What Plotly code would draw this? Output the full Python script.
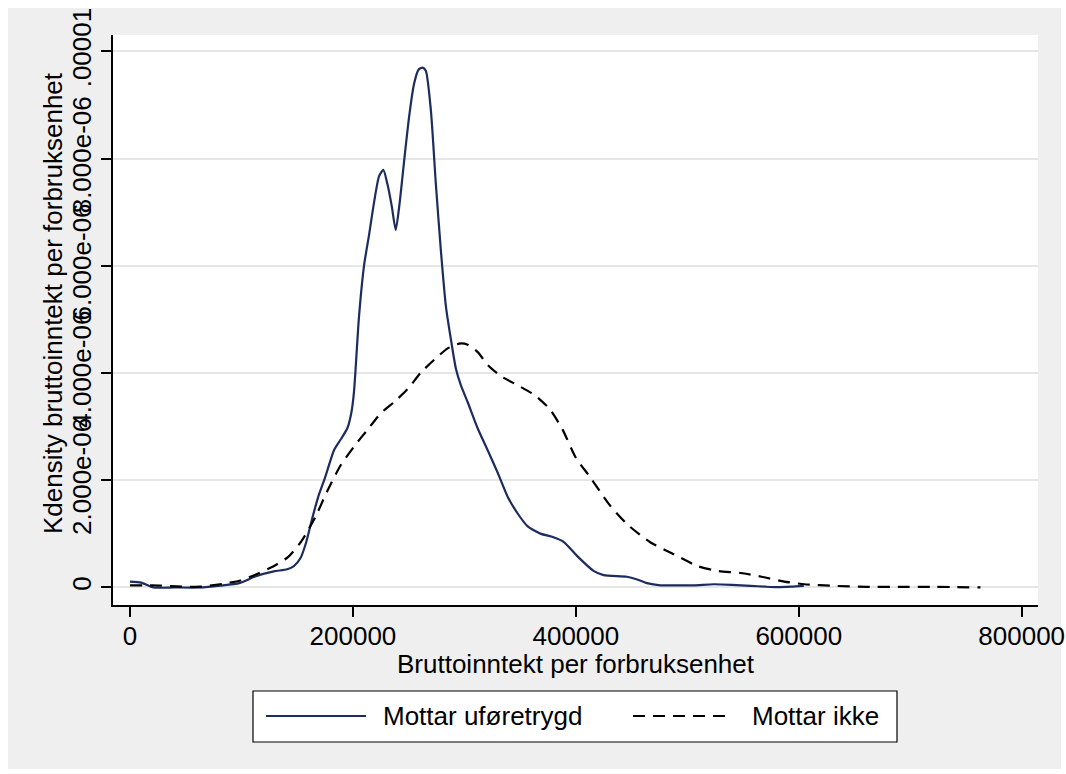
import plotly.graph_objects as go

# ---- data ----
x_ufor = [0, 10000, 21000, 40000, 63000, 81000, 98000, 113000, 129000, 141000, 147000,
          153000, 158000, 163000, 169000, 175000, 183000, 189000, 195000, 198500, 201000,
          205400, 210000, 214400, 219000, 223400, 227300, 230900, 234800, 238400, 242000,
          245900, 250400, 254900, 258800, 262400, 265400, 269900, 274400, 278900, 283400,
          287900, 292400, 296900, 302900, 311900, 320900, 329900, 338900, 347800, 356800,
          368800, 378000, 389000, 401000, 415900, 424900, 445800, 455000, 463800, 475800,
          490000, 505700, 523700, 540000, 556600, 570000, 580500, 593000, 604500]
y_ufor = [0.11, 0.09, 0.0, 0.0, 0.0, 0.035, 0.08, 0.21, 0.30, 0.34, 0.40,
          0.55, 0.84, 1.25, 1.70, 2.05, 2.56, 2.76, 2.97, 3.25, 3.66,
          5.04, 6.01, 6.57, 7.19, 7.67, 7.79, 7.53, 7.12, 6.67, 7.19,
          7.95, 8.78, 9.40, 9.66, 9.70, 9.64, 8.91, 7.53, 6.29, 5.25,
          4.63, 4.08, 3.77, 3.46, 2.97, 2.56, 2.14, 1.69, 1.38, 1.14,
          1.00, 0.95, 0.85, 0.59, 0.31, 0.23, 0.20, 0.15, 0.08, 0.04,
          0.04, 0.04, 0.06, 0.05, 0.03, 0.015, 0.006, 0.015, 0.03]

x_ikke = [0, 20000, 42000, 63000, 84000, 99000, 114000, 130000, 142000, 154000, 166000,
          177000, 189000, 201000, 213000, 225000, 237000, 249000, 261000, 273000, 285000,
          295400, 303000, 312000, 321000, 333000, 348000, 363000, 376500, 388000, 400000,
          412000, 423000, 431000, 446000, 467000, 488000, 509000, 527000, 548000, 569000,
          587000, 605000, 631000, 661000, 691000, 721000, 763000]
y_ikke = [0.04, 0.04, 0.02, 0.014, 0.07, 0.13, 0.25, 0.41, 0.57, 0.87, 1.30,
          1.80, 2.28, 2.63, 2.94, 3.25, 3.46, 3.70, 4.01, 4.25, 4.46,
          4.55, 4.53, 4.39, 4.15, 3.94, 3.77, 3.59, 3.33, 2.95, 2.42,
          2.08, 1.75, 1.52, 1.18, 0.84, 0.62, 0.40, 0.31, 0.27, 0.19,
          0.11, 0.06, 0.03, 0.012, 0.012, 0.012, 0.0]

series_names = ["Mottar uføretrygd", "Mottar ikke"]
x_ticks = [0, 200000, 400000, 600000, 800000]
x_tick_labels = ["0", "200000", "400000", "600000", "800000"]
y_ticks = [0, 2e-6, 4e-6, 6e-6, 8e-6, 1e-5]
y_tick_labels = ["0", "2.000e-06", "4.000e-06", "6.000e-06", "8.000e-06", ".00001"]
x_title = "Bruttoinntekt per forbruksenhet"
y_title = "Kdensity bruttoinntekt per forbruksenhet"

SCALE = 1e-6
FONT = "Liberation Sans, Arial, Helvetica, sans-serif"
FS = 26
NAVY = "#1c2c5e"
DASH = "12px,8px"
W, H = 1066, 774
L, R, T, B = 113, 28, 35, 169
PW, PH = W - L - R, H - T - B


def px_x(p):
    return (p - L) / PW


def px_y(p):
    return (H - B - p) / PH


fig = go.Figure()
fig.add_trace(go.Scatter(
    x=x_ufor, y=[v * SCALE for v in y_ufor], mode="lines", name=series_names[0],
    showlegend=False,
    line=dict(color=NAVY, width=2.2, shape="spline", smoothing=0.6)))
fig.add_trace(go.Scatter(
    x=x_ikke, y=[v * SCALE for v in y_ikke], mode="lines", name=series_names[1],
    showlegend=False,
    line=dict(color="#000000", width=2.2, dash=DASH, shape="spline", smoothing=0.6)))

# legend (drawn as a boxed key below the plot)
leg_y = px_y(716)
shapes = [
    dict(type="rect", xref="paper", yref="paper", layer="below",
         x0=px_x(8), x1=px_x(1061), y0=px_y(769), y1=px_y(8),
         fillcolor="#efefef", line=dict(width=0)),
    dict(type="rect", xref="paper", yref="paper", layer="below",
         x0=0, x1=1, y0=0, y1=1, fillcolor="#ffffff", line=dict(width=0)),
    dict(type="rect", xref="paper", yref="paper", layer="above",
         x0=px_x(253), x1=px_x(897), y0=px_y(742), y1=px_y(691),
         fillcolor="#ffffff", line=dict(color="#000000", width=1.2)),
    dict(type="line", xref="paper", yref="paper", layer="above",
         x0=px_x(266), x1=px_x(366), y0=leg_y, y1=leg_y,
         line=dict(color=NAVY, width=2.2)),
    dict(type="line", xref="paper", yref="paper", layer="above",
         x0=px_x(633), x1=px_x(733), y0=leg_y, y1=leg_y,
         line=dict(color="#000000", width=2.2, dash=DASH)),
]
annotations = [
    dict(text=series_names[0], xref="paper", yref="paper", x=px_x(381), y=leg_y,
         xanchor="left", yanchor="middle", showarrow=False, font=dict(size=FS)),
    dict(text=series_names[1], xref="paper", yref="paper", x=px_x(750), y=leg_y,
         xanchor="left", yanchor="middle", showarrow=False, font=dict(size=FS)),
    dict(text=x_title, xref="paper", yref="paper", x=0.5, y=px_y(664),
         xanchor="center", yanchor="middle", showarrow=False, font=dict(size=FS)),
    dict(text=y_title, xref="paper", yref="paper", x=px_x(53), y=px_y(303),
         xanchor="center", yanchor="middle", textangle=-90, showarrow=False,
         font=dict(size=FS)),
]

fig.update_layout(
    width=W, height=H,
    margin=dict(l=L, r=R, t=T, b=B, pad=0),
    paper_bgcolor="#ffffff",
    plot_bgcolor="#ffffff",
    font=dict(family=FONT, size=FS, color="#000000"),
    shapes=shapes,
    annotations=annotations,
    xaxis=dict(
        range=[-15252, 814624], tickmode="array", tickvals=x_ticks, ticktext=x_tick_labels,
        showgrid=False, zeroline=False, showline=True, linecolor="#000000", linewidth=1.5,
        ticks="outside", ticklen=10, tickwidth=1.5, tickcolor="#000000",
        tickfont=dict(size=FS), ticklabelstandoff=-3, automargin=False,
    ),
    yaxis=dict(
        range=[-0.327e-6, 10.307e-6], tickmode="array", tickvals=y_ticks, ticktext=y_tick_labels,
        tickangle=-90, showgrid=True, gridcolor="#e6e6e6", gridwidth=2, zeroline=False,
        showline=True, linecolor="#000000", linewidth=1.5,
        ticks="outside", ticklen=10, tickwidth=1.5, tickcolor="#000000",
        tickfont=dict(size=FS), ticklabelstandoff=0, automargin=False,
    ),
    showlegend=False,
)

fig.write_html("out.html")
